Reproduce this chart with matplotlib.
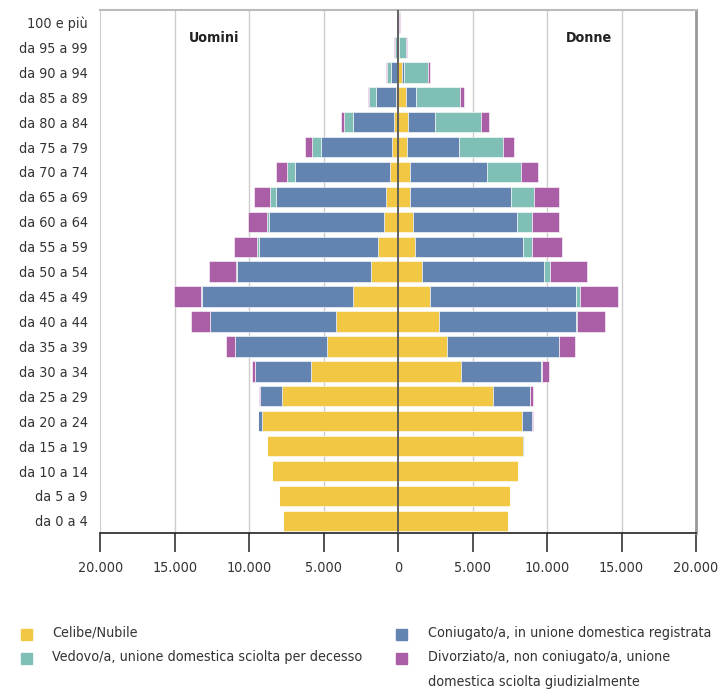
import os
import numpy as np
import matplotlib
matplotlib.use("Agg")
from matplotlib import pyplot as plt
from matplotlib import font_manager as fm
from matplotlib.patches import Rectangle

# cerca un font stretto (il grafico originale usa un condensed)
scelto = None
for f in fm.fontManager.ttflist:
    base = os.path.basename(f.fname)
    if f.weight not in (400, "normal", "regular", "book"):
        continue
    if "italic" in base.lower() or "oblique" in base.lower():
        continue
    if "Narrow" in base or "Condensed" in base or "Narrow" in f.name or "Condensed" in f.name:
        pri = 0 if "LiberationSansNarrow" in base else (1 if "DejaVuSansCondensed" in base else 2)
        if scelto is None or pri < scelto[0]:
            scelto = (pri, f.name, f.stretch)

if scelto is not None:
    plt.rcParams['font.family'] = [scelto[1], 'DejaVu Sans']
    plt.rcParams['font.stretch'] = scelto[2]
    fs = 12.5 if scelto[0] == 0 else 10.3
else:
    plt.rcParams['font.family'] = ['DejaVu Sans']
    fs = 9.5

# classi di eta, dall'alto in basso
classi = ["100 e più", "da 95 a 99", "da 90 a 94", "da 85 a 89", "da 80 a 84",
          "da 75 a 79", "da 70 a 74", "da 65 a 69", "da 60 a 64", "da 55 a 59",
          "da 50 a 54", "da 45 a 49", "da 40 a 44", "da 35 a 39", "da 30 a 34",
          "da 25 a 29", "da 20 a 24", "da 15 a 19", "da 10 a 14", "da 5 a 9",
          "da 0 a 4"]

# Uomini
celibi_m = [5, 10, 70, 170, 300, 420, 570, 790, 970, 1360, 1800, 3030, 4150, 4800,
            5850, 7770, 9160, 8800, 8470, 7970, 7700]
coniugati_m = [5, 50, 440, 1300, 2730, 4740, 6380, 7380, 7670, 8010, 9040, 10150, 8460,
               6150, 3730, 1480, 250, 0, 0, 0, 0]
vedovi_m = [10, 180, 250, 500, 620, 650, 540, 430, 160, 90, 70, 40, 40, 20, 10, 0,
            0, 0, 0, 0, 0]
divorziati_m = [0, 10, 40, 70, 200, 420, 720, 1090, 1300, 1590, 1810, 1850, 1250, 560,
                250, 70, 10, 0, 0, 0, 0]

# Donne
celibi_w = [10, 30, 250, 520, 660, 620, 770, 820, 970, 1150, 1580, 2160, 2760, 3250,
            4240, 6340, 8310, 8380, 8020, 7480, 7350]
coniugati_w = [0, 10, 150, 670, 1790, 3460, 5210, 6730, 7000, 7220, 8210, 9750, 9150,
               7520, 5370, 2480, 650, 90, 0, 0, 0]
vedovi_w = [60, 470, 1610, 2930, 3130, 2980, 2240, 1590, 1050, 600, 380, 270, 90, 60,
            20, 10, 0, 0, 0, 0, 0]
divorziati_w = [30, 90, 130, 290, 490, 690, 1160, 1630, 1790, 2060, 2480, 2600, 1920,
                1030, 510, 220, 70, 0, 0, 0, 0]

nomi = ["Celibe/Nubile", "Coniugato/a, in unione domestica registrata",
        "Vedovo/a, unione domestica sciolta per decesso",
        "Divorziato/a, non coniugato/a, unione\ndomestica sciolta giudizialmente"]
colori = ["#F2C744", "#6384B0", "#80BFB6", "#A95EA5"]

fig = plt.figure(figsize=(7.2, 6.91), dpi=100)
ax = fig.add_axes((0.1393, 0.2282, 0.8274, 0.7573))

n = len(classi)
y = np.arange(n)[::-1]
uomini = [celibi_m, coniugati_m, vedovi_m, divorziati_m]
donne = [celibi_w, coniugati_w, vedovi_w, divorziati_w]

base_m = np.zeros(n)
base_w = np.zeros(n)
for serie_m, serie_w, c in zip(uomini, donne, colori):
    vm = np.array(serie_m, float)
    vw = np.array(serie_w, float)
    ax.barh(y, -vm, left=-base_m, height=0.82, color=c, edgecolor="white", linewidth=0.4, zorder=3)
    ax.barh(y, vw, left=base_w, height=0.82, color=c, edgecolor="white", linewidth=0.4, zorder=3)
    base_m += vm
    base_w += vw

ax.set_xlim(-20000, 20000)
ax.set_ylim(-0.5, n - 0.5)
ax.set_yticks(y)
ax.set_yticklabels(classi, fontsize=fs, color="#333333")
ax.tick_params(axis="y", length=0, pad=9)

xt = np.arange(-20000, 20001, 5000)
ax.set_xticks(xt)
ax.set_xticklabels(["{:,}".format(abs(v)).replace(",", ".") for v in xt], fontsize=fs, color="#333333")
ax.tick_params(axis="x", length=14, width=1.2, color="#333333", pad=6, direction="out")

for v in xt[1:-1]:
    if v != 0:
        ax.axvline(v, color="#cccccc", lw=1, zorder=1)
ax.axvline(0, color="#555555", lw=1.3, zorder=4)

ax.spines["left"].set_color("#cccccc")
ax.spines["top"].set_color("#bbbbbb")
ax.spines["top"].set_linewidth(1.5)
ax.spines["right"].set_color("#999999")
ax.spines["right"].set_linewidth(2)
ax.spines["bottom"].set_color("#222222")
ax.spines["bottom"].set_linewidth(1.2)

ax.text(-14060, 19.36, "Uomini", fontsize=fs, fontweight="bold", color="#222222", va="center", ha="left")
ax.text(11290, 19.36, "Donne", fontsize=fs, fontweight="bold", color="#222222", va="center", ha="left")

# legenda manuale
W, H = 720., 691.
pos = [(26, 634), (401.7, 634), (26, 658), (401.7, 658)]
for k, (px, py) in enumerate(pos):
    fig.add_artist(Rectangle(((px - 5.5) / W, 1 - (py + 5.5) / H), 11 / W, 11 / H,
                             transform=fig.transFigure, color=colori[k]))
    fig.text((px + 26.3) / W, 1 - (py - 8) / H, nomi[k], fontsize=fs, color="#333333",
             va="top", ha="left", linespacing=2.0)

fig.savefig("out.png", dpi=100)
